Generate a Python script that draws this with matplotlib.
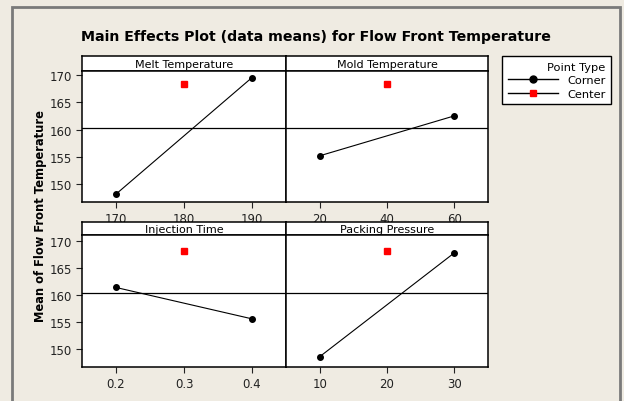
import matplotlib.pyplot as plt
from matplotlib.lines import Line2D
from matplotlib.patches import Rectangle

# Werte
factors = ['Melt Temperature', 'Mold Temperature', 'Injection Time', 'Packing Pressure']
low_levels = [170, 20, 0.2, 10]
high_levels = [190, 60, 0.4, 30]
center_levels = [180, 40, 0.3, 20]
corner_low = [148.2, 155.2, 161.4, 148.6]
corner_high = [169.5, 162.5, 155.6, 167.8]
center_means = [168.4, 168.4, 168.2, 168.2]
grand_mean = 160.35
y_ticks = [150, 155, 160, 165, 170]
x_ticks = [[170, 180, 190], [20, 40, 60], [0.2, 0.3, 0.4], [10, 20, 30]]
x_limits = [(165, 195), (10, 70), (0.15, 0.45), (5, 35)]

W, H = 624, 402
bg = '#efebe2'


def box(x0, y0, x1, y1):
    return [x0 / W, 1 - y1 / H, (x1 - x0) / W, (y1 - y0) / H]


fig = plt.figure(figsize=(W / 100, H / 100), dpi=100, facecolor=bg)
fig.patches.append(Rectangle((12 / W, -0.1), 608 / W, 1.1 - 8 / H,
                             transform=fig.transFigure, fill=False,
                             edgecolor='#7a7a7a', linewidth=2))

fig.text(316 / W, 1 - 37 / H, 'Main Effects Plot (data means) for Flow Front Temperature',
         ha='center', va='center', fontsize=10.2, fontweight='bold')
fig.text(41 / W, 1 - 216 / H, 'Mean of Flow Front Temperature', rotation=90,
         ha='center', va='center', fontsize=8.3, fontweight='bold')

cols = [(82, 286), (286, 488)]
rows = [(57, 72, 203, (146.76, 170.7)), (223, 236, 368, (146.7, 171.1))]

for i, name in enumerate(factors):
    r, c = divmod(i, 2)
    x0, x1 = cols[c]
    top, strip_bot, bot, ylim = rows[r]

    sax = fig.add_axes(box(x0, top, x1, strip_bot))
    sax.set_xticks([])
    sax.set_yticks([])
    sax.set_facecolor('white')
    sax.text(0.5, 0.45, name, ha='center', va='center', fontsize=8, transform=sax.transAxes)

    ax = fig.add_axes(box(x0, strip_bot, x1, bot))
    ax.set_facecolor('white')
    ax.axhline(grand_mean, color='black', linewidth=0.9)
    ax.plot([low_levels[i], high_levels[i]], [corner_low[i], corner_high[i]],
            color='black', linewidth=0.8, marker='o', markersize=4)
    ax.plot([center_levels[i]], [center_means[i]], linestyle='none',
            marker='s', markersize=4, color='red')
    ax.set_xlim(*x_limits[i])
    ax.set_ylim(*ylim)
    ax.set_xticks(x_ticks[i])
    ax.set_yticks(y_ticks)
    ax.tick_params(direction='out', length=4, width=0.8, labelsize=8.5, colors='#222222', pad=3)
    if c == 1:
        ax.tick_params(axis='y', left=False, labelleft=False)
    for s in ax.spines.values():
        s.set_linewidth(1.1)
    for s in sax.spines.values():
        s.set_linewidth(1.1)

handles = [Line2D([], [], color='black', marker='o', markersize=5, linewidth=1),
           Line2D([], [], color='black', marker='s', markersize=5, markerfacecolor='red',
                  markeredgecolor='red', linewidth=1)]
leg = fig.legend(handles, ['Corner', 'Center'], title='Point Type', loc='upper left',
                 bbox_to_anchor=(502 / W, 1 - 57 / H), fontsize=8.2, title_fontsize=8.2,
                 alignment='right', fancybox=False, edgecolor='black', framealpha=1,
                 handlelength=4.4, borderpad=0.5, labelspacing=0.3, borderaxespad=0,
                 handletextpad=0.8)
leg.get_frame().set_linewidth(1)

fig.savefig('out.png', dpi=100, facecolor=bg)
